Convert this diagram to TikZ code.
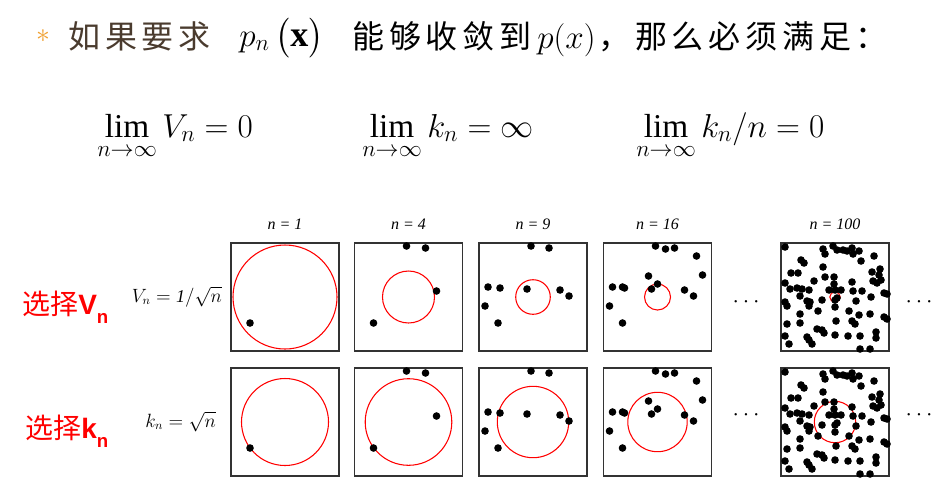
\documentclass[tikz,border=0pt]{standalone}
\usepackage{amsmath}
\usepackage{fontspec}
\setmainfont{Liberation Serif}
\newfontfamily\cjk{Noto Sans CJK SC}
\newfontfamily\labelsans{Liberation Sans}
\usetikzlibrary{positioning}
\definecolor{tBrown}{HTML}{4A3B2E}
\definecolor{tOrange}{HTML}{F0A030}
\definecolor{tRed}{HTML}{FF0000}

% sample points, relative to the top left corner of a panel
\newcommand{\ptsA}{19/80}
\newcommand{\ptsB}{52/3, 71/5, 82/48, 19/80}
\newcommand{\ptsC}{52/3, 70/5, 9/44, 21/45, 48/46, 81/47, 90/53, 6/63, 19/80}
\newcommand{\ptsD}{52/3, 62/6, 71/5, 93/13, 99/32, 45/33, 9/44, 19/44, 21/45, 54/41, 48/46, 81/47, 90/53, 6/63, 19/80}
\newcommand{\ptsE}{4/4, 42/6, 44/11, 52/3, 56/7, 62/7, 66/8, 71/5, 72/11, 78/8, 80/18, 93/13, 20/17, 23/20, 42/24, 10/30, 17/30, 33/38, 44/34, 53/34, 53/41, 4/40, 9/46, 16/45, 21/46, 28/47, 48/47, 54/47, 60/47, 71/39, 72/48, 81/48, 91/29, 99/26, 98/32, 92/38, 96/40, 100/37, 103/50, 106/51, 90/54, 19/53, 26/58, 29/59, 4/59, 6/63, 41/57, 54/57, 54/64, 56/55, 68/68, 75/58, 37/68, 19/71, 28/63, 78/72, 89/71, 103/74, 106/76, 55/78, 19/80, 6/81, 71/78, 74/81, 36/86, 41/87, 43/90, 95/89, 54/92, 67/93, 79/93, 4/93, 26/94, 28/97, 31/101, 8/101, 95/95, 79/106, 89/106}

\begin{document}
\begin{tikzpicture}[x=0.75pt, y=0.75pt,
    panel/.style={draw=black!80, line width=1.1pt, minimum size=81pt, inner sep=0pt, outer sep=0pt},
    ring/.style={tRed, line width=0.8pt},
    ntitle/.style={font=\fontsize{12}{14}\selectfont\itshape, inner sep=0pt},
    headcjk/.style={font=\cjk\fontsize{24}{28}\selectfont\addfontfeature{LetterSpace=15}, inner sep=0pt, anchor=base west},
    headmath/.style={font=\fontsize{27}{32}\selectfont, inner sep=0pt, anchor=base west},
    limit/.style={font=\fontsize{25}{30}\selectfont, inner sep=0pt, anchor=base west},
    rule/.style={font=\fontsize{13.5}{16}\selectfont, inner sep=0pt, anchor=base east},
    pick/.style={font=\fontsize{21}{24}\selectfont, text=tRed, inner sep=0pt, anchor=base west},
    more/.style={font=\fontsize{16}{18}\selectfont}]
  \useasboundingbox[fill=white] (0,0) rectangle (937,-487);

  % title line
  \node[font=\fontsize{22}{24}\selectfont, text=tOrange] (star) at (43,-36) {$\ast$};
  \node[headcjk, text=tBrown] (h1) at (68,-48) {如果要求};
  \node[headmath] (h2) at (239,-46) {$p_n\left(\vrule height 21pt depth 8pt width 0pt\mathbf{x}\right)$};
  \node[headcjk] (h3) at (352,-48) {能够收敛到};
  \node[headmath, font=\fontsize{25}{30}\selectfont] (h4) at (537,-48) {$p(x)$};
  \node[headcjk] (h5) at (598,-48) {，那么必须满足：};

  % conditions
  \node[limit] (c1) at (97,-137) {$\lim\limits_{n\to\infty} V_n = 0$};
  \node[limit] (c2) at (362,-137) {$\lim\limits_{n\to\infty} k_n = \infty$};
  \node[limit] (c3) at (636,-137) {$\lim\limits_{n\to\infty} k_n / n = 0$};

  % row labels
  \node[pick] (selv) at (22,-314) {{\cjk 选择}{\labelsans\bfseries V\raisebox{-0.35em}{\fontsize{14}{14}\selectfont n}}};
  \node[pick] (selk) at (25,-438) {{\cjk 选择}{\labelsans\bfseries k\raisebox{-0.35em}{\fontsize{14}{14}\selectfont n}}};
  \node[rule] (rv) at (222,-302) {$V_n = \mathit{1}/\sqrt{n}$};
  \node[rule] (rk) at (216,-427) {$k_n = \sqrt{n}$};

  % panels
  \foreach \i/\n/\cx/\ra/\rb in {1/1/285/52/43.5, 2/4/408.5/26/43.3, 3/9/533/17.3/35.7, 4/16/657.5/13/29.7, 5/100/835/5.2/20.7} {
    \node[panel] (v\i) at (\cx,-297) {};
    \node[panel] (k\i) at (\cx,-422) {};
    \node[ntitle, above=10pt of v\i] (t\i) {n = \n};
    \draw[ring] (v\i.center) circle (\ra);
    \draw[ring] (k\i.center) circle (\rb);
  }
  \foreach \i/\L in {1/A, 2/B, 3/C, 4/D, 5/E} {
    \edef\curpts{\csname pts\L\endcsname}
    \foreach \row in {v, k} {
      \foreach \px/\py in \curpts
        \fill ([shift={(\px,-\py)}]\row\i.north west) circle (3.8);
    }
  }

  % dots between panels
  \node[more] (gv1) at (748,-302) {$\cdots$};
  \node[more] (gv2) at (921,-302) {$\cdots$};
  \node[more] (gk1) at (748,-415) {$\cdots$};
  \node[more] (gk2) at (921,-415) {$\cdots$};
\end{tikzpicture}
\end{document}
